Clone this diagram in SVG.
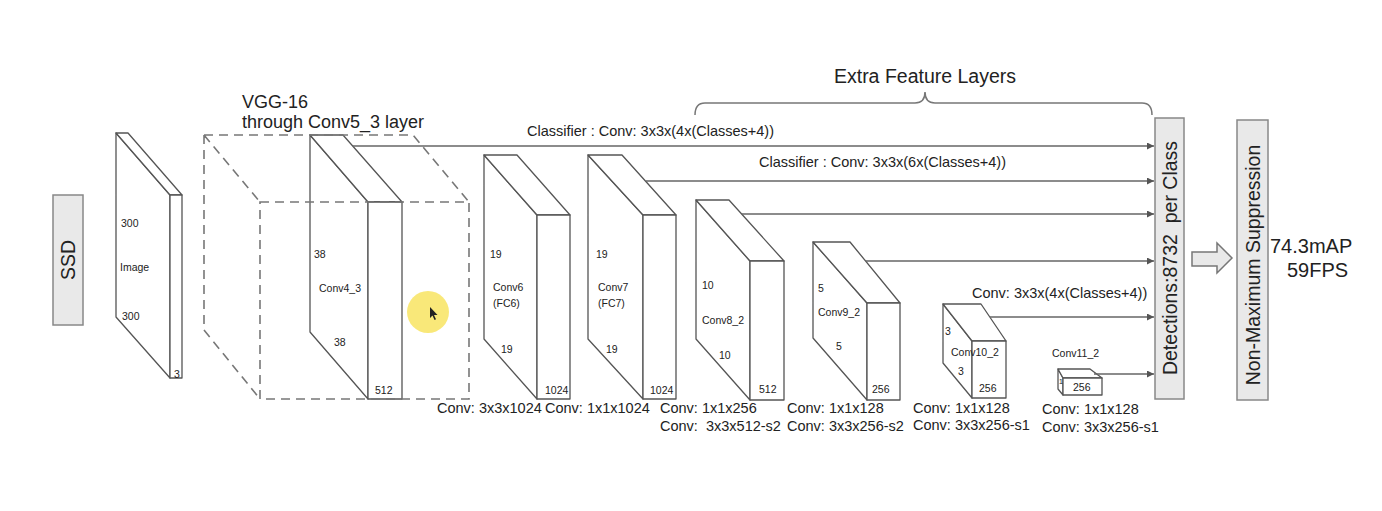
<svg xmlns="http://www.w3.org/2000/svg" width="1382" height="511" viewBox="0 0 1382 511">
<defs>
<style>
.slab{fill:#fff;stroke:#555;stroke-width:1.3;stroke-linejoin:round}
.dash{fill:none;stroke:#777;stroke-width:1.6;stroke-dasharray:9 6}
.conn{stroke:#666;stroke-width:1.4;fill:none}
.box{fill:#e9e9e9;stroke:#888;stroke-width:1.5}
text{font-family:"Liberation Sans",Arial,sans-serif;fill:#222}
.sm{font-size:10.5px}
.md{font-size:14.5px}
.lg{font-size:19.5px}
</style>
<marker id="ah" viewBox="0 0 10 10" refX="10" refY="5" markerWidth="8" markerHeight="7" markerUnits="userSpaceOnUse" orient="auto">
<path d="M0,0 L10,5 L0,10 z" fill="#555"/>
</marker>
</defs>
<rect width="1382" height="511" fill="#fff"/>

<g id="ssd">
<rect class="box" x="53" y="195" width="30" height="130"/>
<text class="lg" transform="translate(75,260) rotate(-90)" text-anchor="middle">SSD</text>
</g>

<g id="image">
<polygon class="slab" points="116,133 170,195 170,378 116,317"/>
<polygon class="slab" points="116,133 128,133 182,195 170,195"/>
<rect class="slab" x="170" y="195" width="12" height="183"/>
<text class="sm" x="121" y="227">300</text>
<text class="sm" x="120" y="271">Image</text>
<text class="sm" x="122" y="320">300</text>
<text class="sm" x="174" y="378">3</text>
</g>

<g id="conv4_3">
<polygon class="slab" points="310,135 368,202 368,399 310,332"/>
<polygon class="slab" points="310,135 343,135 402,202 368,202"/>
<rect class="slab" x="368" y="202" width="34" height="197"/>
<text class="sm" x="314" y="258">38</text>
<text class="sm" x="319" y="292">Conv4_3</text>
<text class="sm" x="334" y="346">38</text>
<text class="sm" x="375" y="394">512</text>
</g>

<g id="vgg16">
<path class="dash" d="M204,135 L413,135 L469,202 M204,135 L260,202 M204,135 L204,330 L260,399 M260,202 L469,202 L469,399 L260,399 Z"/>
<text style="font-size:18px" x="242" y="108">VGG-16</text>
<text style="font-size:18px" x="242" y="128">through Conv5_3 layer</text>
</g>

<g id="cursor">
<circle cx="428" cy="312" r="21" fill="#f8e66a" opacity="0.9"/>
<path d="M430,307 L430,318 L432.5,315.5 L434.5,320 L436,319.3 L434,315 L437.5,315 Z" fill="#222"/>
</g>

<g id="conv6">
<polygon class="slab" points="484,155 537,215 537,399 484,339"/>
<polygon class="slab" points="484,155 517,155 570,215 537,215"/>
<rect class="slab" x="537" y="215" width="33" height="184"/>
<text class="sm" x="490" y="258">19</text>
<text class="sm" x="493" y="291">Conv6</text>
<text class="sm" x="493" y="307">(FC6)</text>
<text class="sm" x="501" y="353">19</text>
<text class="sm" x="545" y="394">1024</text>
<text class="md" x="437" y="413">Conv: 3x3x1024</text>
</g>

<g id="conv7">
<polygon class="slab" points="588,155 643,215 643,399 588,339"/>
<polygon class="slab" points="588,155 622,155 676,215 643,215"/>
<rect class="slab" x="643" y="215" width="33" height="184"/>
<text class="sm" x="596" y="258">19</text>
<text class="sm" x="598" y="291">Conv7</text>
<text class="sm" x="598" y="307">(FC7)</text>
<text class="sm" x="606" y="353">19</text>
<text class="sm" x="650" y="394">1024</text>
<text class="md" x="545" y="413">Conv: 1x1x1024</text>
</g>

<g id="conv8_2">
<polygon class="slab" points="696,200 750,261 750,400 696,339"/>
<polygon class="slab" points="696,200 729,200 784,261 750,261"/>
<rect class="slab" x="750" y="261" width="34" height="139"/>
<text class="sm" x="702" y="289">10</text>
<text class="sm" x="702" y="324">Conv8_2</text>
<text class="sm" x="719" y="359">10</text>
<text class="sm" x="759" y="393">512</text>
<text class="md" x="660" y="413">Conv: 1x1x256</text>
<text class="md" x="660" y="431" xml:space="preserve">Conv:  3x3x512-s2</text>
</g>

<g id="conv9_2">
<polygon class="slab" points="813,242 867,303 867,400 813,338"/>
<polygon class="slab" points="813,242 850,242 900,303 867,303"/>
<rect class="slab" x="867" y="303" width="33" height="97"/>
<text class="sm" x="818" y="292">5</text>
<text class="sm" x="818" y="316">Conv9_2</text>
<text class="sm" x="836" y="350">5</text>
<text class="sm" x="872" y="393">256</text>
<text class="md" x="787" y="413">Conv: 1x1x128</text>
<text class="md" x="787" y="431">Conv: 3x3x256-s2</text>
</g>

<g id="conv10_2">
<polygon class="slab" points="943,304 972,341 972,398 943,363"/>
<polygon class="slab" points="943,304 981,304 1006,341 972,341"/>
<rect class="slab" x="972" y="341" width="34" height="57"/>
<text class="sm" x="945" y="335">3</text>
<text class="sm" x="951" y="356">Conv10_2</text>
<text class="sm" x="958" y="375">3</text>
<text class="sm" x="979" y="392">256</text>
<text class="md" x="913" y="413">Conv: 1x1x128</text>
<text class="md" x="913" y="430">Conv: 3x3x256-s1</text>
</g>

<g id="conv11_2">
<polygon class="slab" points="1058,369 1063,378 1063,395 1058,389"/>
<polygon class="slab" points="1058,369 1090,369 1102,378 1063,378"/>
<rect class="slab" x="1063" y="378" width="39" height="17"/>
<text style="font-size:7px" x="1059" y="384">1</text>
<text class="sm" x="1073" y="391">256</text>
<text class="sm" x="1052" y="357">Conv11_2</text>
<text class="md" x="1042" y="414">Conv: 1x1x128</text>
<text class="md" x="1042" y="432">Conv: 3x3x256-s1</text>
</g>

<g id="extra-brace">
<path d="M695,115 Q695,103 705,103 L915,103 Q925,103 925,92 Q925,103 935,103 L1142,103 Q1152,103 1152,115" fill="none" stroke="#777" stroke-width="1.5"/>
<text class="lg" x="925" y="83" text-anchor="middle">Extra Feature Layers</text>
</g>

<g id="connectors">
<line class="conn" x1="353" y1="146" x2="1154" y2="146" marker-end="url(#ah)"/>
<line class="conn" x1="646" y1="181" x2="1154" y2="181" marker-end="url(#ah)"/>
<line class="conn" x1="742" y1="214" x2="1154" y2="214" marker-end="url(#ah)"/>
<line class="conn" x1="866" y1="261" x2="1154" y2="261" marker-end="url(#ah)"/>
<line class="conn" x1="990" y1="317" x2="1154" y2="317" marker-end="url(#ah)"/>
<line class="conn" x1="1094" y1="374" x2="1154" y2="374" marker-end="url(#ah)"/>
<text class="md" x="527" y="136">Classifier : Conv: 3x3x(4x(Classes+4))</text>
<text class="md" x="759" y="167">Classifier : Conv: 3x3x(6x(Classes+4))</text>
<text class="md" x="972" y="298">Conv: 3x3x(4x(Classes+4))</text>
<polygon points="1192,252 1217,252 1217,243 1232,258 1217,273 1217,266 1192,266" fill="#e9e9e9" stroke="#777" stroke-width="1.5"/>
</g>

<g id="detections">
<rect class="box" x="1155" y="118" width="29" height="281"/>
<text class="lg" transform="translate(1177,258) rotate(-90)" text-anchor="middle" xml:space="preserve">Detections:8732  per Class</text>
</g>

<g id="nms">
<rect class="box" x="1237" y="120" width="31" height="280"/>
<text class="lg" transform="translate(1260,265) rotate(-90)" text-anchor="middle">Non-Maximum Suppression</text>
</g>

<g id="result">
<text style="font-size:20px" x="1270" y="253">74.3mAP</text>
<text style="font-size:20px" x="1287" y="277">59FPS</text>
</g>
</svg>
